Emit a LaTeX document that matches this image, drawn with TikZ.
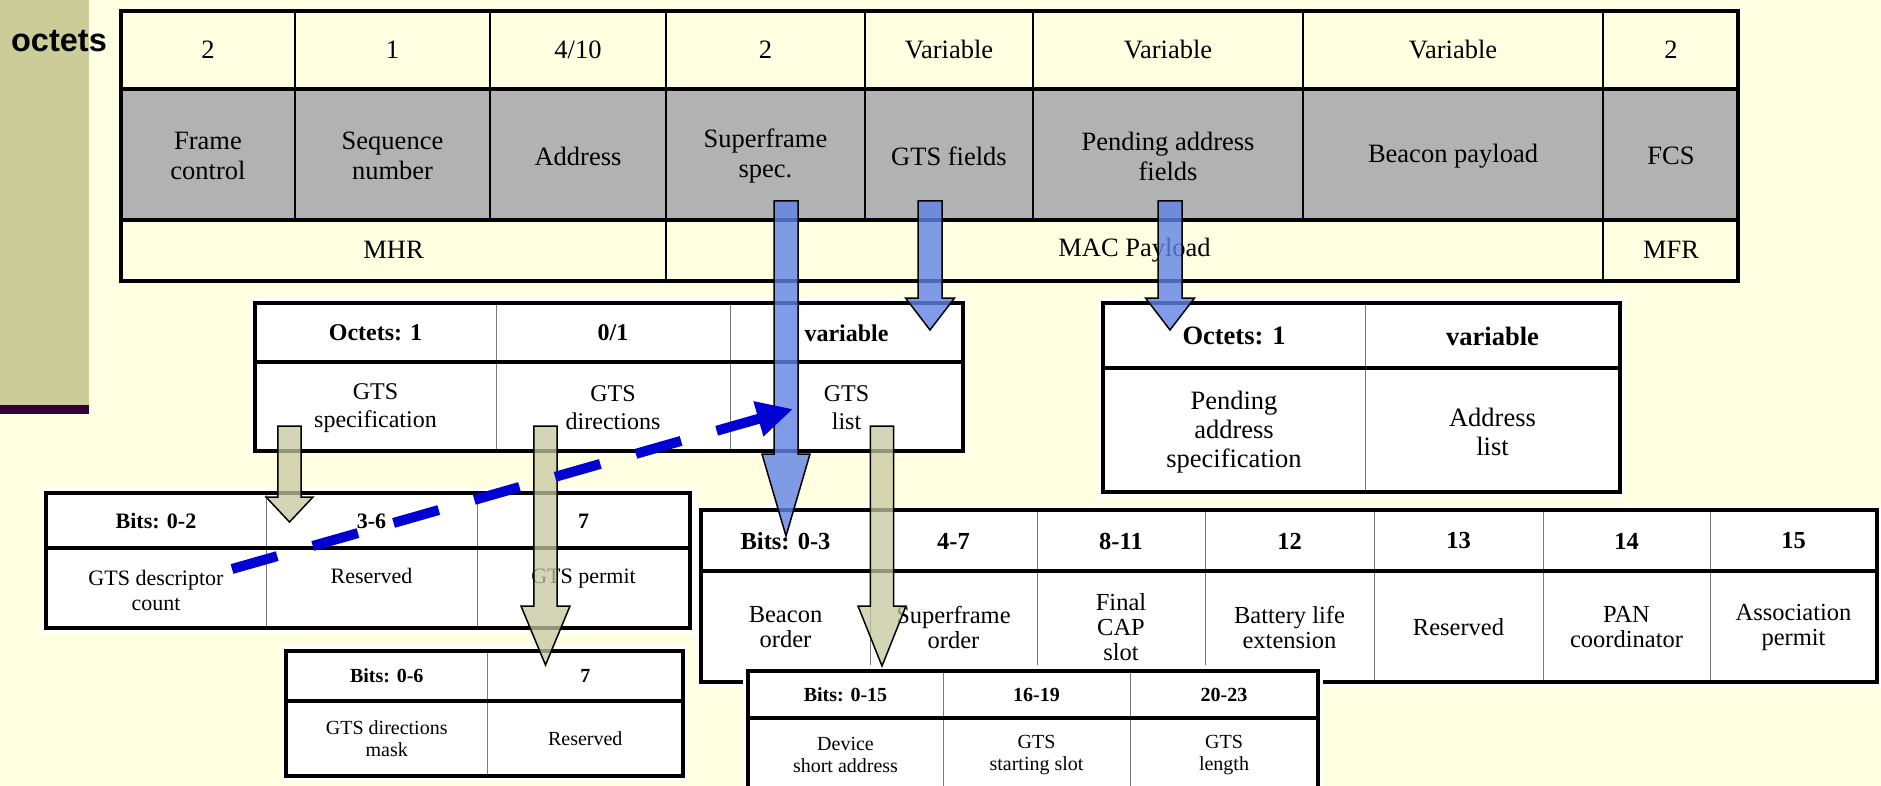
\documentclass[tikz,border=0pt]{standalone}
\usepackage{fontspec}
\setmainfont{Liberation Serif}
\newfontfamily\labelsans{Liberation Sans}
\usetikzlibrary{arrows.meta,calc}

\definecolor{pagebg}{RGB}{255,255,225}
\definecolor{sidebar}{RGB}{204,204,153}
\definecolor{sidestripe}{RGB}{51,0,51}
\definecolor{fieldgray}{RGB}{178,178,178}
\definecolor{arrowblue}{RGB}{95,130,228}
\definecolor{arrowkhaki}{RGB}{198,198,158}
\definecolor{dashblue}{RGB}{0,0,210}
\definecolor{thingray}{RGB}{120,120,120}

% block arrow: style, source, tip, shaft half width, head half width, head length
\newcommand{\blockarrow}[6]{%
  \path[#1] let \p1=(#2), \p2=(#3) in
    (\x1-#4,\y1) -- (\x1+#4,\y1) -- (\x1+#4,\y2+#6) -- (\x1+#5,\y2+#6)
    -- (\x2,\y2) -- (\x1-#5,\y2+#6) -- (\x1-#4,\y2+#6) -- cycle;
}

\begin{document}
\begin{tikzpicture}[x=1pt,y=-1pt,
  cell/.style={inner sep=0pt, align=center},
  hd/.style={execute at begin node=\bfseries},
  toptext/.style={cell, font=\fontsize{26.5}{30}\selectfont},
  gtstext/.style={cell, font=\fontsize{24}{27.7}\selectfont},
  pendtext/.style={cell, font=\fontsize{26.5}{29}\selectfont},
  spectext/.style={cell, font=\fontsize{22}{25}\selectfont},
  dirtext/.style={cell, font=\fontsize{20}{22}\selectfont},
  sftext/.style={cell, font=\fontsize{24.5}{25}\selectfont},
  listtext/.style={cell, font=\fontsize{20}{22}\selectfont},
  frameline/.style={line width=4.5pt},
  framecol/.style={line width=2.5pt},
  boxline/.style={line width=3.5pt},
  thincol/.style={line width=1pt, thingray},
  pad/.style={fill=white},
  bluearrow/.style={fill=arrowblue, fill opacity=0.8, draw=black, line width=1.5pt, line join=miter},
  khakiarrow/.style={fill=arrowkhaki, fill opacity=0.75, draw=black, line width=1.5pt, line join=miter},
  dasharrow/.style={dashblue, line width=10pt, dash pattern=on 47pt off 37pt,
    -{Triangle[length=36pt,width=34pt]}}
]
\useasboundingbox (0,0) rectangle (1881,786);
\clip (0,0) rectangle (1881,786);
\fill[pagebg] (0,0) rectangle (1881,786);

% side bar
\fill[sidebar] (0,0) rectangle (89,405);
\fill[sidestripe] (0,405) rectangle (89,414);
\node[anchor=base, inner sep=0pt, font=\labelsans\bfseries\fontsize{32.5}{36}\selectfont] (octets) at (59,52) {octets};

% ---------- beacon frame ----------
\fill[pagebg] (121,11) rectangle (1738,89);
\fill[fieldgray] (121,89) rectangle (1738,220);
\fill[pagebg] (121,220) rectangle (1738,281);
\foreach \cx in {295,490,666,865,1033,1303,1603}
  \draw[framecol] (\cx,11) -- (\cx,220);
\draw[framecol] (666,220) -- (666,281);
\draw[framecol] (1603,220) -- (1603,281);
\draw[frameline] (121,89) -- (1738,89);
\draw[frameline] (121,220) -- (1738,220);
\draw[frameline] (121,11) rectangle (1738,281);

\node[toptext] (o-fc)  at (208,50)    {2};
\node[toptext] (o-seq) at (392.5,50)  {1};
\node[toptext] (o-adr) at (578,50)    {4/10};
\node[toptext] (o-sf)  at (765.5,50)  {2};
\node[toptext] (o-gts) at (949,50)    {Variable};
\node[toptext] (o-pnd) at (1168,50)   {Variable};
\node[toptext] (o-bp)  at (1453,50)   {Variable};
\node[toptext] (o-fcs) at (1671,50)   {2};

\node[toptext] (fc)  at (208,156)   {Frame\\control};
\node[toptext] (seq) at (392.5,156) {Sequence\\number};
\node[toptext] (adr) at (578,156)   {Address};
\node[toptext] (sf)  at (765.5,156) {Superframe\\spec.};
\node[toptext] (gts) at (949,156)   {GTS fields};
\node[toptext] (pnd) at (1168,156)  {Pending address\\fields};
\node[toptext] (bp)  at (1453,156)  {Beacon payload};
\node[toptext] (fcs) at (1671,156)  {FCS};

\node[toptext] (mhr) at (393.5,250) {MHR};
\node[toptext] (mac) at (1134.5,250) {MAC Payload};
\node[toptext] (mfr) at (1671,250)  {MFR};

% ---------- GTS fields ----------
\fill[pad] (250,297) rectangle (968,456);
\draw[thincol] (496,303) -- (496,451);
\draw[thincol] (730,303) -- (730,451);
\draw[boxline] (255,362) -- (963,362);
\draw[boxline] (255,303) rectangle (963,451);
\node[gtstext,hd] (g-o1) at (375.5,333) {Octets: 1};
\node[gtstext,hd] (g-o2) at (613,333)   {0/1};
\node[gtstext,hd] (g-o3) at (846.5,333) {variable};
\node[gtstext] (gspec) at (375.5,408) {GTS\\specification};
\node[gtstext] (gdir)  at (613,408)   {GTS\\directions};
\node[gtstext] (glist) at (846.5,408) {GTS\\list};

% ---------- pending address fields ----------
\fill[pad] (1098,297) rectangle (1625,497);
\draw[thincol] (1365,303) -- (1365,492);
\draw[boxline] (1103,368) -- (1620,368);
\draw[boxline] (1103,303) rectangle (1620,492);
\node[pendtext,hd] (p-o1) at (1234,336)   {Octets: 1};
\node[pendtext,hd] (p-o2) at (1492.5,336) {variable};
\node[pendtext] (pspec) at (1234,432)   {Pending\\address\\specification};
\node[pendtext] (plist) at (1492.5,432) {Address\\list};

% ---------- GTS specification ----------
\fill[pad] (41,487) rectangle (695,633);
\draw[thincol] (266,493) -- (266,628);
\draw[thincol] (477,493) -- (477,628);
\draw[boxline] (46,548) -- (690,548);
\draw[boxline] (46,493) rectangle (690,628);
\node[spectext,hd] (s-b1) at (156,521)   {Bits: 0-2};
\node[spectext,hd] (s-b2) at (371.5,521) {3-6};
\node[spectext,hd] (s-b3) at (583.5,521) {7};
\node[spectext] (scount) at (156,590) {GTS descriptor\\count};
\node[spectext, anchor=base] (sres) at (371.5,583) {Reserved};
\node[spectext, anchor=base] (sperm) at (583.5,583) {GTS permit};

% ---------- GTS directions ----------
\fill[pad] (281,646) rectangle (688,781);
\draw[thincol] (487.5,651) -- (487.5,776);
\draw[boxline] (286,701) -- (683,701);
\draw[boxline] (286,651) rectangle (683,776);
\node[dirtext,hd] (d-b1) at (386.75,676) {Bits: 0-6};
\node[dirtext,hd] (d-b2) at (585.25,676) {7};
\node[dirtext] (dmask) at (386.75,739) {GTS directions\\mask};
\node[dirtext] (dres)  at (585.25,739) {Reserved};

% ---------- superframe specification ----------
\fill[pad] (696,505) rectangle (1881,687);
\foreach \cx in {870,1037,1205,1374,1543,1710}
  \draw[thincol] (\cx,510) -- (\cx,682);
\draw[boxline] (701,571) -- (1877,571);
\draw[boxline] (701,510) rectangle (1877,682);
\node[sftext,hd] (f-b1) at (785.5,541)  {Bits: 0-3};
\node[sftext,hd] (f-b2) at (953.5,541)  {4-7};
\node[sftext,hd] (f-b3) at (1121,541)   {8-11};
\node[sftext,hd] (f-b4) at (1289.5,541) {12};
\node[sftext,hd] (f-b5) at (1458.5,541) {13};
\node[sftext,hd] (f-b6) at (1626.5,541) {14};
\node[sftext,hd] (f-b7) at (1793.5,541) {15};
\node[sftext] (fbo)  at (785.5,627)  {Beacon\\order};
\node[sftext] (fso)  at (953.5,627)  {Superframe\\order};
\node[sftext] (fcap) at (1121,627)   {Final\\CAP\\slot};
\node[sftext] (fble) at (1289.5,627) {Battery life\\extension};
\node[sftext] (fres) at (1458.5,627) {Reserved};
\node[sftext] (fpan) at (1626.5,627) {PAN\\coordinator};
\node[sftext] (fasc) at (1793.5,627) {Association\\permit};

% ---------- GTS list descriptor ----------
\fill[pad] (743,665) rectangle (1323,850);
\draw[thincol] (943,671) -- (943,845);
\draw[thincol] (1130,671) -- (1130,845);
\draw[boxline] (748,718) -- (1318,718);
\draw[boxline] (748,671) rectangle (1318,845);
\node[listtext,hd] (l-b1) at (845.5,695)  {Bits: 0-15};
\node[listtext,hd] (l-b2) at (1036.5,695) {16-19};
\node[listtext,hd] (l-b3) at (1224,695)   {20-23};
\node[listtext] (ldev) at (845.5,755)  {Device\\short address};
\node[listtext] (lss)  at (1036.5,755) {GTS\\starting slot};
\node[listtext] (llen) at (1224,755)   {GTS\\length};

% ---------- expansion arrows ----------
\coordinate (sf-src)   at (786,201);   \coordinate (sf-tip)   at (786,536);
\coordinate (gts-src)  at (930,201);   \coordinate (gts-tip)  at (930,330);
\coordinate (pnd-src)  at (1170,201);  \coordinate (pnd-tip)  at (1170,330);
\coordinate (spec-src) at (289.5,426); \coordinate (spec-tip) at (289.5,522);
\coordinate (dir-src)  at (545.5,426); \coordinate (dir-tip)  at (545.5,665);
\coordinate (list-src) at (882,426);   \coordinate (list-tip) at (882,666);

\blockarrow{bluearrow}{sf-src}{sf-tip}{12pt}{24pt}{82pt}
\blockarrow{bluearrow}{gts-src}{gts-tip}{12pt}{24.5pt}{32pt}
\blockarrow{bluearrow}{pnd-src}{pnd-tip}{12pt}{24.5pt}{32pt}
\blockarrow{khakiarrow}{spec-src}{spec-tip}{11.7pt}{23.5pt}{25pt}
\blockarrow{khakiarrow}{dir-src}{dir-tip}{11.7pt}{24.5pt}{59pt}
\blockarrow{khakiarrow}{list-src}{list-tip}{11.7pt}{24pt}{60pt}

% descriptor count points into the GTS list
\coordinate (cnt-src) at (232,569);
\coordinate (cnt-tip) at (793,409);
\draw[dasharrow] (cnt-src) -- (cnt-tip);
\end{tikzpicture}
\end{document}
